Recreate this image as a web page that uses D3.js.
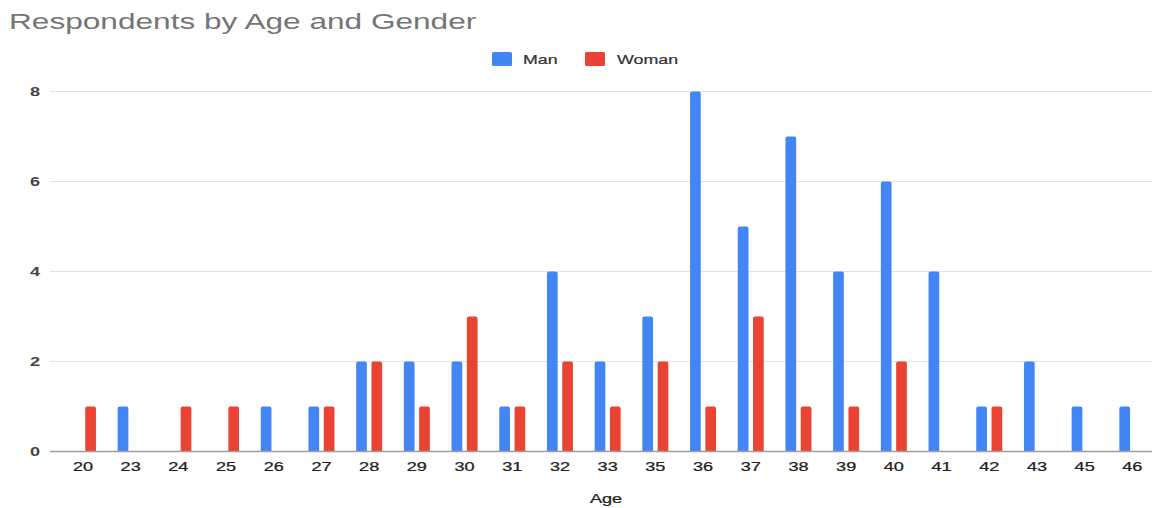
<!DOCTYPE html>
<html>
<head>
<meta charset="utf-8">
<script src="https://cdn.jsdelivr.net/npm/d3@7"></script>
<style>
  html, body { margin: 0; padding: 0; background: #fff; }
  svg { display: block; font-family: "Liberation Sans", Arial, sans-serif; }
</style>
</head>
<body>
<svg id="chart" width="1154" height="508"></svg>
<script>
// Respondent counts per age, split by gender
const ages = ["20","23","24","25","26","27","28","29","30","31","32","33","35","36","37","38","39","40","41","42","43","45","46"];
const men   = [0,1,0,0,1,1,2,2,2,1,4,2,3,8,5,7,4,6,4,1,2,1,1];
const women = [1,0,1,1,0,1,2,1,3,1,2,1,2,1,3,1,1,2,0,1,0,0,0];
const seriesNames = ["Man", "Woman"];
const seriesColors = ["#4285F4", "#EA4335"];
const yTicks = [0, 2, 4, 6, 8];

const svg = d3.select("#chart");
const SX = 1.45; // horizontal stretch applied to all text

function label(g, x, y, txt, opts) {
  const o = opts || {};
  return g.append("text")
    .attr("transform", `translate(${x},${y}) scale(${SX},1)`)
    .attr("text-anchor", o.anchor || "start")
    .attr("font-size", o.size || 12)
    .attr("font-weight", o.weight || "normal")
    .attr("fill", o.fill || "#444")
    .attr("stroke", o.stroke || "none")
    .attr("stroke-width", o.strokeWidth || 0)
    .text(txt);
}

const plotLeft = 50, plotRight = 1152;
const x0 = d3.scaleBand().domain(ages).range([56.6, 1158.7]).paddingInner(0.455).paddingOuter(0.28);
const x1 = d3.scaleBand().domain(seriesNames).range([0, x0.bandwidth()]).paddingInner(0.3);
const y = d3.scaleLinear().domain([0, 8]).range([451.5, 91.5]);

// Title
label(svg, 9, 29, "Respondents by Age and Gender", { size: 21.8, fill: "#757575" });

// Legend
const legend = svg.append("g");
const legendItems = [{ name: "Man", x: 492, tx: 523 }, { name: "Woman", x: 585, tx: 617 }];
legendItems.forEach((d, i) => {
  legend.append("rect").attr("x", d.x).attr("y", 52).attr("width", 20).attr("height", 14)
    .attr("rx", 1.5).attr("fill", seriesColors[i]);
  label(legend, d.tx, 64, d.name, { size: 12.3, fill: "#333", stroke: "#333", strokeWidth: 0.2 });
});

// Gridlines and y labels
const grid = svg.append("g");
yTicks.forEach(t => {
  if (t !== 0) {
    grid.append("line").attr("x1", plotLeft).attr("x2", plotRight)
      .attr("y1", y(t)).attr("y2", y(t)).attr("stroke", "#e2e2e2").attr("stroke-width", 1.2);
  }
  label(grid, 40, y(t) + 4.5, String(t), { size: 12.5, anchor: "end", fill: "#444", weight: "bold" });
});

// Bars
const bars = svg.append("g");
function barPath(x, w, yTop, yBase) {
  const r = Math.min(2, (yBase - yTop) / 2, w / 2);
  return `M${x},${yBase}V${yTop + r}Q${x},${yTop} ${x + r},${yTop}H${x + w - r}Q${x + w},${yTop} ${x + w},${yTop + r}V${yBase}Z`;
}
ages.forEach((a, i) => {
  [men[i], women[i]].forEach((v, s) => {
    if (v <= 0) return;
    const bx = x0(a) + x1(seriesNames[s]);
    bars.append("path")
      .attr("d", barPath(bx, x1.bandwidth(), y(v), y(0)))
      .attr("fill", seriesColors[s]);
  });
});

// Baseline
svg.append("line").attr("x1", plotLeft).attr("x2", plotRight)
  .attr("y1", y(0)).attr("y2", y(0)).attr("stroke", "#9e9e9e").attr("stroke-width", 1.5);

// X labels
const xl = svg.append("g");
ages.forEach(a => {
  label(xl, x0(a) + x0.bandwidth() / 2, 471, a, { size: 12.5, anchor: "middle", fill: "#222", stroke: "#222", strokeWidth: 0.25 });
});

// Axis title
label(svg, 606, 503, "Age", { size: 12.5, anchor: "middle", fill: "#222", stroke: "#222", strokeWidth: 0.25 });
</script>
</body>
</html>
